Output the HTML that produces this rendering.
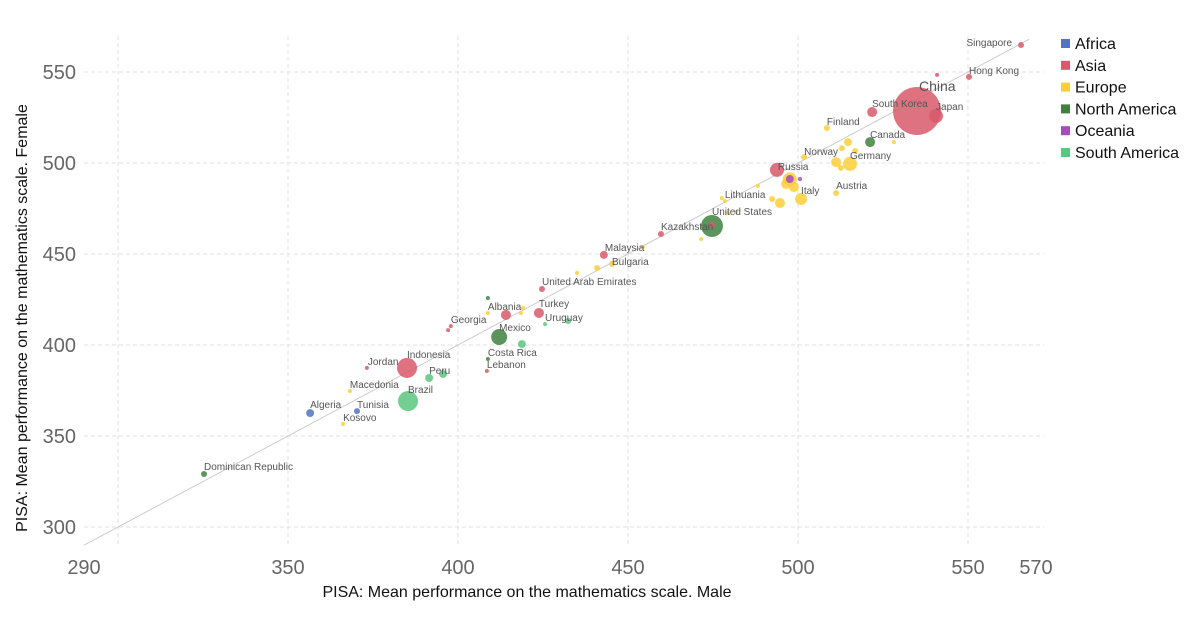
<!DOCTYPE html>
<html><head><meta charset="utf-8"><style>
html,body{margin:0;padding:0;background:#fff;}
svg{display:block;font-family:"Liberation Sans",sans-serif;}
</style></head><body>
<svg id="chart" width="1200" height="630"></svg>
<script>
const regions=["Africa","Asia","Europe","North America","Oceania","South America"];
const regionColors=["#4f73c9","#d9596a","#fccf36","#3f8240","#a64ac0","#5cc67e"];
const names=["Singapore","Hong Kong","","China","Japan","South Korea","Finland","","Canada","","","","Norway","Germany","","","Russia","","","","","","Italy","Austria","","","","Lithuania","","United States","","","","Kazakhstan","","Malaysia","","Bulgaria","","United Arab Emirates","","Albania","Albania-r","","","","Turkey","Uruguay","","Georgia","","Mexico","","Costa Rica","Lebanon","Indonesia","Jordan","Peru","","Macedonia","Brazil","Algeria","Tunisia","Kosovo","Dominican Republic"];
const maleScores=[565.6,550.3,540.9,535.0,540.6,521.8,508.5,514.7,521.2,512.9,516.8,528.2,501.8,515.3,511.2,512.6,493.8,497.6,497.6,496.5,498.8,500.6,500.9,511.2,488.2,492.4,494.7,477.6,478.5,474.7,474.7,481.8,479.4,459.7,471.5,442.9,454.4,445.3,440.9,424.7,435.0,408.8,414.1,408.8,419.1,418.5,423.8,425.6,432.4,397.9,397.1,412.1,418.8,408.8,408.5,385.0,373.2,391.5,395.6,368.2,385.3,356.5,370.3,366.2,325.3];
const femaleScores=[564.8,547.3,548.4,528.6,525.8,528.0,519.2,511.5,511.5,508.2,506.6,511.5,503.3,499.5,500.5,497.3,496.2,491.0,491.2,488.5,486.8,491.2,480.2,483.5,487.4,480.2,478.0,480.8,479.1,465.4,466.0,473.1,472.5,461.0,458.2,449.5,453.8,444.5,442.3,430.8,439.6,417.6,416.5,425.8,420.3,417.6,417.6,411.5,413.2,410.4,408.2,404.4,400.5,392.3,385.7,387.4,387.4,381.9,384.1,374.7,369.2,362.6,363.7,356.6,329.1];
const regionIndex=[1,1,1,1,1,1,2,2,3,2,2,2,2,2,2,2,1,2,4,2,2,4,2,2,2,2,2,2,2,3,1,2,2,1,2,1,2,2,2,1,2,2,1,3,2,2,1,5,5,1,1,3,5,3,1,1,1,5,5,2,5,0,0,2,3];
const population=[21.6,21.6,9.6,1380,117,60,21.6,38,60,21.6,21.6,9.6,21.6,117,60,21.6,117,117,38,60,60,9.6,86,21.6,9.6,21.6,60,9.6,9.6,290,21.6,9.6,9.6,21.6,9.6,38,9.6,21.6,21.6,21.6,9.6,9.6,60,9.6,9.6,9.6,60,9.6,21.6,9.6,9.6,153,38,9.6,9.6,240,9.6,38,38,9.6,240,38,21.6,9.6,21.6];
const xTicks=[290,350,400,450,500,550,570];
const yTicks=[300,350,400,450,500,550];
const xGrid=[300,350,400,450,500,550];

const NS="http://www.w3.org/2000/svg";
const svg=document.getElementById("chart");
const X=v=>84+(v-290)*3.4;
const Y=v=>345-(v-400)*1.82;
const R=p=>Math.max(2,24*Math.sqrt(p/1380));
function mk(tag,attrs,parent){const e=document.createElementNS(NS,tag);for(const k in attrs)e.setAttribute(k,attrs[k]);(parent||svg).appendChild(e);return e;}

const grid=mk("g",{});


xGrid.forEach(v=>{const l=mk("line",{x1:X(v),x2:X(v),y1:36,y2:546,stroke:"#e2e2e2","stroke-dasharray":"4,3"},grid);

});
yTicks.forEach(v=>{const l=mk("line",{x1:84,x2:1044,y1:Y(v),y2:Y(v),stroke:"#e2e2e2","stroke-dasharray":"4,3"},grid);

});

xTicks.forEach(v=>{const t=mk("text",{x:X(v),y:574,"text-anchor":"middle","font-size":20,fill:"#666"});t.textContent=v;

});
yTicks.forEach(v=>{const t=mk("text",{x:76,y:Y(v)+7,"text-anchor":"end","font-size":20,fill:"#666"});t.textContent=v;

});

const diag=mk("line",{x1:X(290),y1:Y(290),x2:X(568),y2:Y(568),stroke:"#ccc","stroke-width":1});



const order=maleScores.map((_,i)=>i).sort((a,b)=>population[b]-population[a]);
order.forEach(i=>{
 const c=mk("circle",{cx:X(maleScores[i]),cy:Y(femaleScores[i]),r:R(population[i]),fill:regionColors[regionIndex[i]],"fill-opacity":0.85});
 
 
});

const labelDx={"Singapore":-9,"Hong Kong":0,"China":2,"Japan":0,"South Korea":0,"Finland":0,"Canada":0,"Norway":0,"Germany":0,"Russia":1,"Italy":0,"Austria":0,"Lithuania":3,"United States":0,"Kazakhstan":0,"Malaysia":1,"Bulgaria":0,"United Arab Emirates":0,"Albania":0,"Turkey":0,"Uruguay":0,"Georgia":0,"Mexico":0,"Costa Rica":0,"Lebanon":0,"Indonesia":0,"Jordan":1,"Peru":0,"Macedonia":0,"Brazil":0,"Algeria":0,"Tunisia":0,"Kosovo":0,"Dominican Republic":0};
const labelDy={"Singapore":1,"Hong Kong":-3,"China":-20,"Japan":-6,"South Korea":-5,"Finland":-3,"Canada":-4,"Norway":-2,"Germany":-5,"Russia":0,"Italy":-5,"Austria":-4,"Lithuania":0,"United States":-11,"Kazakhstan":-4,"Malaysia":-4,"Bulgaria":1,"United Arab Emirates":-4,"Albania":-3,"Turkey":-6,"Uruguay":-3,"Georgia":-3,"Mexico":-6,"Costa Rica":-3,"Lebanon":-3,"Indonesia":-10,"Jordan":-3,"Peru":-4,"Macedonia":-3,"Brazil":-8,"Algeria":-5,"Tunisia":-3,"Kosovo":-3,"Dominican Republic":-4};
names.forEach((n,i)=>{
 if(!n||!(n in labelDx))return;
 const t=mk("text",{x:X(maleScores[i])+labelDx[n],y:Y(femaleScores[i])+labelDy[n],"font-size":n==="China"?14:10,fill:"#555","text-anchor":n==="Singapore"?"end":"start"});
 t.textContent=n;
 
 
});

const xt=mk("text",{x:527,y:597,"text-anchor":"middle","font-size":16,fill:"#111"});
xt.textContent="PISA: Mean performance on the mathematics scale. Male";


const yt=mk("text",{x:0,y:0,"text-anchor":"middle","font-size":16,fill:"#111",transform:"translate(27,318) rotate(-90)"});
yt.textContent="PISA: Mean performance on the mathematics scale. Female";



regions.forEach((r,i)=>{
 const g=mk("g",{});
 
 
 mk("rect",{x:1061,y:39+i*21.8,width:9,height:9,fill:regionColors[i]},g);
 const t=mk("text",{x:1075,y:49+i*21.8,"font-size":16,fill:"#111"},g);t.textContent=r;
});
</script>
</body></html>
